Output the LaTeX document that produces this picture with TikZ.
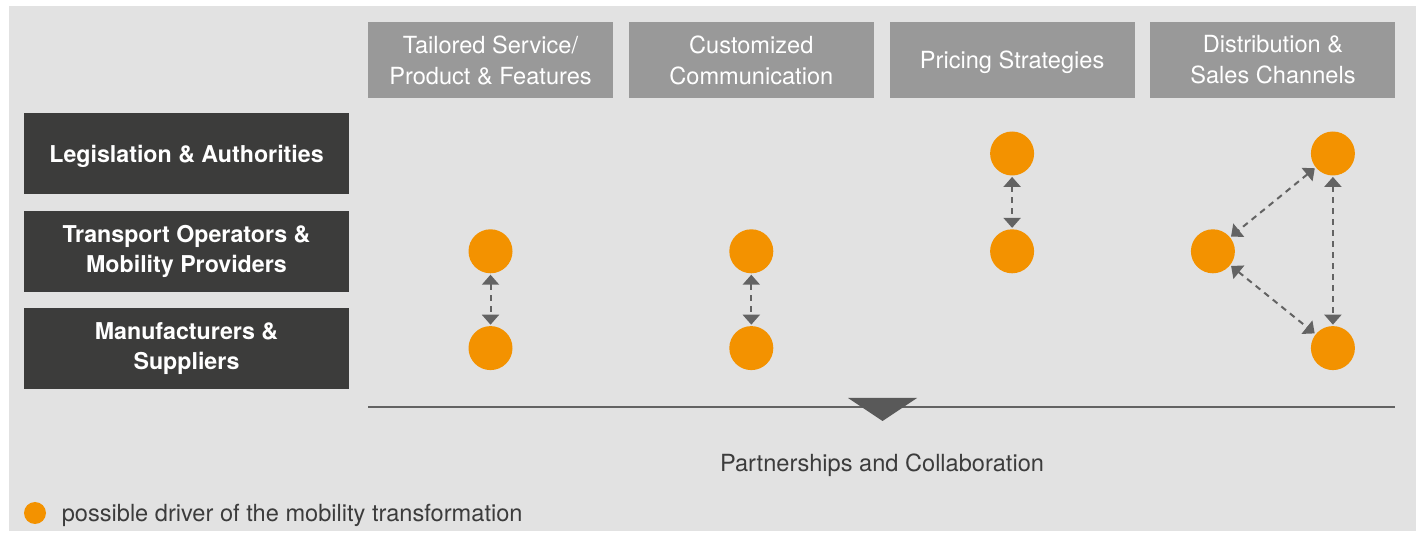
\documentclass[tikz,border=0pt]{standalone}
\usepackage{fontspec}
\setmainfont{TeX Gyre Heros}
\usepackage{xcolor}
\usetikzlibrary{arrows.meta,positioning}

\definecolor{bggray}{HTML}{E2E2E2}
\definecolor{headgray}{HTML}{999999}
\definecolor{darkbox}{HTML}{3C3C3B}
\definecolor{drvorange}{HTML}{F39200}
\definecolor{linkgray}{HTML}{636363}
\definecolor{textgray}{HTML}{3C3C3C}

\begin{document}
\begin{tikzpicture}[
  x=0.5pt, y=-0.5pt,
  node distance=7.5pt and 7.5pt,
  headbox/.style={fill=headgray, text=white, align=center, inner sep=0pt, minimum width=122.5pt, minimum height=38pt, font=\fontsize{11.8}{15.5}\selectfont},
  groupbox/.style={fill=darkbox, text=white, align=center, inner sep=0pt, minimum width=162.5pt, minimum height=40.5pt, font=\bfseries\fontsize{11.6}{15}\selectfont},
  driver/.style={circle, fill=drvorange, inner sep=0pt, minimum size=22pt},
  link/.style={{Triangle[length=5pt,width=8.5pt]}-{Triangle[length=5pt,width=8.5pt]}, draw=linkgray, line width=1pt, dash pattern=on 3pt off 2.5pt, shorten >=0.5pt, shorten <=0.5pt},
  plain/.style={text=textgray, inner sep=0pt, font=\fontsize{11.8}{15}\selectfont}
]
  \useasboundingbox (0,0) rectangle (1423,533);
  \fill[bggray] (9,6) rectangle (1416,531);

  % Column headers
  \node[headbox] (hdr1) at (490.5,60) {Tailored Service/\\Product \& Features};
  \node[headbox, right=of hdr1] (hdr2) {Customized\\Communication};
  \node[headbox, right=of hdr2, text depth=0pt] (hdr3) {Pricing Strategies};
  \node[headbox, right=of hdr3] (hdr4) {Distribution \&\\Sales Channels};

  % Stakeholder rows
  \node[groupbox, text depth=0pt] (legis) at (186.5,153.5) {Legislation \& Authorities};
  \node[groupbox, below=8pt of legis] (oper) {Transport Operators \&\\Mobility Providers};
  \node[groupbox, below=of oper] (manu) {Manufacturers \&\\Suppliers};

  % Drivers
  \node[driver] (svcA) at (hdr1 |- oper) {};
  \node[driver] (svcB) at (hdr1 |- manu) {};
  \node[driver] (comA) at (hdr2 |- oper) {};
  \node[driver] (comB) at (hdr2 |- manu) {};
  \node[driver] (prcA) at (hdr3 |- legis) {};
  \node[driver] (prcB) at (hdr3 |- oper) {};
  \node[driver] (disA) at ([xshift=30pt]hdr4 |- legis) {};
  \node[driver] (disB) at ([xshift=-30pt]hdr4 |- oper) {};
  \node[driver] (disC) at ([xshift=30pt]hdr4 |- manu) {};

  \draw[link] (svcA) -- (svcB);
  \draw[link] (comA) -- (comB);
  \draw[link] (prcA) -- (prcB);
  \draw[link] (disA) -- (disB);
  \draw[link] (disB) -- (disC);
  \draw[link] (disA) -- (disC);

  % Partnerships bar
  \coordinate (barL) at (368,407);
  \coordinate (barR) at (1395,407);
  \draw[linkgray, line width=1pt] (barL) -- (barR);
  \fill[linkgray!90!black] (848,398) -- (917,398) -- (882.5,421) -- cycle;
  \node[plain] (partner) at (882,465) {Partnerships and Collaboration};

  % Legend
  \node[driver, minimum size=11pt] (legdot) at (35,513) {};
  \node[plain, right=7.5pt of legdot, yshift=-1pt] (legtxt) {possible driver of the mobility transformation};
\end{tikzpicture}
\end{document}
